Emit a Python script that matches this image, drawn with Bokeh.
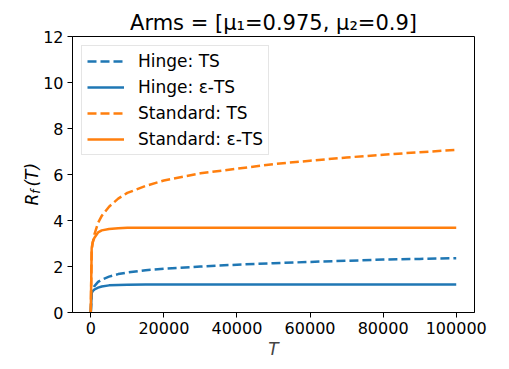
from bokeh.plotting import figure
from bokeh.models import Legend, LegendItem, Label, FixedTicker, Range1d, BasicTickFormatter
from bokeh.embed import file_html
from bokeh.resources import INLINE

# ---- data ----
T = [0, 250, 500, 1000, 2000, 3000, 5000, 7500, 10000, 15000, 20000,
     30000, 40000, 50000, 60000, 70000, 80000, 90000, 100000]
hinge_ts = [0.0, 0.85, 0.98, 1.15, 1.33, 1.43, 1.56, 1.67, 1.74, 1.84, 1.90,
            2.00, 2.08, 2.14, 2.20, 2.25, 2.30, 2.33, 2.36]
hinge_eps_ts = [0.0, 0.85, 0.93, 1.00, 1.08, 1.13, 1.18, 1.20, 1.21, 1.22, 1.22,
                1.22, 1.22, 1.22, 1.22, 1.22, 1.22, 1.22, 1.22]
std_ts = [0.0, 2.70, 3.00, 3.40, 3.90, 4.20, 4.60, 4.95, 5.20, 5.50, 5.74,
          6.05, 6.25, 6.45, 6.60, 6.74, 6.86, 6.97, 7.07]
std_eps_ts = [0.0, 2.80, 3.05, 3.25, 3.48, 3.57, 3.63, 3.66, 3.68, 3.69, 3.69,
              3.69, 3.69, 3.69, 3.69, 3.69, 3.69, 3.69, 3.69]
x_ticks = [0, 20000, 40000, 60000, 80000, 100000]
y_ticks = [0, 2, 4, 6, 8, 10, 12]
labels = ["Hinge: TS", "Hinge: ε-TS", "Standard: TS", "Standard: ε-TS"]

BLUE = "#1f77b4"
ORANGE = "#ff7f0e"
FONT = "DejaVu Sans"

p = figure(frame_width=402, frame_height=276, output_backend="svg",
           toolbar_location=None,
           x_range=Range1d(-5000, 105000), y_range=Range1d(0, 12),
           min_border_left=72, min_border_right=27, min_border_top=36,
           min_border_bottom=49)

p.title.text = "Arms = [μ₁=0.975, μ₂=0.9]"
p.title.align = "center"
p.title.text_font = FONT
p.title.text_font_size = "21px"
p.title.text_font_style = "normal"
p.title.text_color = "black"
p.title.standoff = 4

p.grid.visible = False
p.outline_line_color = "black"
p.outline_line_width = 1
p.outline_line_alpha = 1
p.background_fill_color = "white"
p.border_fill_color = "white"

for ax in (p.xaxis[0], p.yaxis[0]):
    ax.major_tick_out = 5
    ax.major_tick_in = 0
    ax.minor_tick_out = 0
    ax.minor_tick_in = 0
    ax.major_tick_line_color = "black"
    ax.axis_line_color = "black"
    ax.major_label_text_font = FONT
    ax.major_label_text_font_size = "16px"
    ax.major_label_text_color = "black"
    ax.major_label_standoff = 4

p.xaxis[0].ticker = FixedTicker(ticks=x_ticks)
p.xaxis[0].formatter = BasicTickFormatter(use_scientific=False)
p.yaxis[0].ticker = FixedTicker(ticks=y_ticks)
p.xaxis[0].axis_label = "T"
p.xaxis[0].axis_label_text_font = FONT
p.xaxis[0].axis_label_text_font_style = "italic"
p.xaxis[0].axis_label_text_font_size = "17px"
p.xaxis[0].axis_label_standoff = 2

r1 = p.line(T, hinge_ts, color=BLUE, line_width=2.5, line_dash="9 4")
r2 = p.line(T, hinge_eps_ts, color=BLUE, line_width=2.5)
r3 = p.line(T, std_ts, color=ORANGE, line_width=2.5, line_dash="9 4")
r4 = p.line(T, std_eps_ts, color=ORANGE, line_width=2.5)

legend = Legend(items=[LegendItem(label=l, renderers=[r]) for l, r in
                       zip(labels, [r1, r2, r3, r4])],
                location="top_left")
legend.label_text_font = FONT
legend.label_text_font_size = "17px"
legend.label_text_color = "black"
legend.glyph_width = 37
legend.glyph_height = 20
legend.label_height = 20
legend.label_standoff = 14
legend.spacing = 6
legend.padding = 5
legend.margin = 9
legend.border_line_color = "#cccccc"
legend.border_line_width = 1
legend.background_fill_alpha = 0.8
p.add_layout(legend)

# y-axis label R_f(T), built from two rotated pieces; offsets in px from frame corner
ylab = [("R \u200a(T)", -40.5, 107, "17px"),
        ("f", -37.0, 118.8, "12px")]
xpx = 110000 / 402.0
ypx = 12 / 276.0
for txt, sx, sy, fs in ylab:
    p.add_layout(Label(x=-5000 + sx * xpx, y=sy * ypx,
                       text=txt, angle=90, angle_units="deg",
                       text_font=FONT, text_font_size=fs, text_font_style="italic",
                       text_align="left", text_baseline="alphabetic",
                       text_color="black"), "left")

open("out.html", "w").write(file_html(p, INLINE))
